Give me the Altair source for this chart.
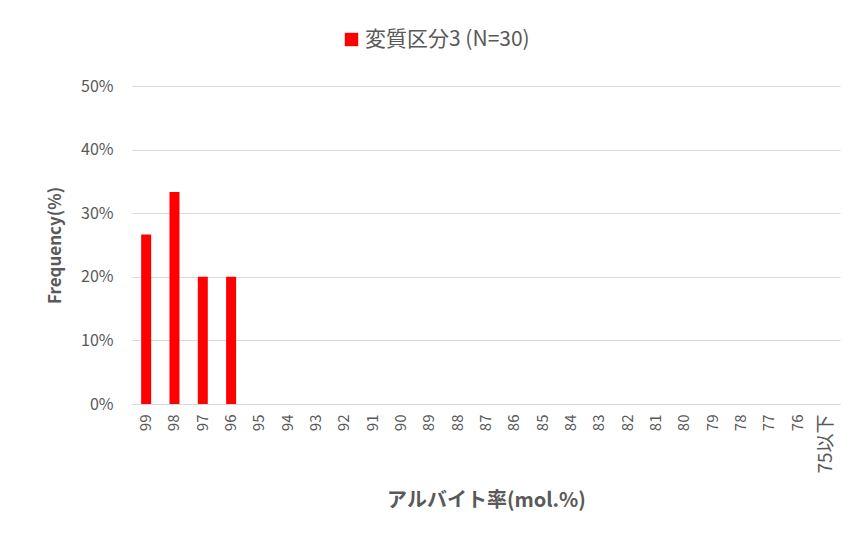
import altair as alt
import pandas as pd

categories = ["99", "98", "97", "96", "95", "94", "93", "92", "91", "90", "89", "88",
              "87", "86", "85", "84", "83", "82", "81", "80", "79", "78", "77", "76", "75以下"]
frequency = [0.2667, 0.3333, 0.20, 0.20] + [0.0] * 21
series_name = "変質区分3 (N=30)"

df = pd.DataFrame({"cat": categories, "freq": frequency, "series": [series_name] * len(categories)})

FONT = "Noto Sans CJK JP"
GRAY = "#595959"

chart = alt.Chart(df).mark_bar(size=10).encode(
    x=alt.X("cat:N", sort=categories,
            scale=alt.Scale(paddingInner=0.0, paddingOuter=0.0),
            axis=alt.Axis(title="アルバイト率(mol.%)", labelAngle=270,
                          labelFontSize={"condition": {"test": "datum.value == '75以下'", "value": 19}, "value": 15},
                          labelColor=GRAY, labelFont=FONT, labelPadding=10,
                          ticks=False, domainColor="#d9d9d9", titleFont=FONT,
                          titleFontSize=20, titleFontWeight="bold", titleColor=GRAY,
                          titleY=86, titleBaseline="top")),
    y=alt.Y("freq:Q", scale=alt.Scale(domain=[0, 0.5]),
            axis=alt.Axis(title="Frequency(%)", format=".0%", values=[0, 0.1, 0.2, 0.3, 0.4, 0.5],
                          labelFontSize=16, labelColor=GRAY, labelFont=FONT, labelPadding=19,
                          ticks=False, domain=False, gridColor="#d9d9d9", titleFont=FONT,
                          titleFontSize=17, titleFontWeight="bold", titleColor=GRAY,
                          titlePadding=16)),
    color=alt.Color("series:N", scale=alt.Scale(range=["#ff0000"]),
                    legend=alt.Legend(title=None, orient="none", legendX=209, legendY=-57,
                                      symbolType="square", symbolSize=180, symbolStrokeWidth=0,
                                      labelFontSize=21, labelColor=GRAY, labelFont=FONT,
                                      labelOffset=3, labelLimit=0)),
).properties(
    width=708, height=318,
    autosize=alt.AutoSizeParams(type="none"),
    padding={"left": 124, "top": 78, "right": 4, "bottom": 120},
).configure_view(stroke=None).configure_axisX(grid=False)

chart.save("out.html", embed_options={"renderer": "svg", "actions": False})
